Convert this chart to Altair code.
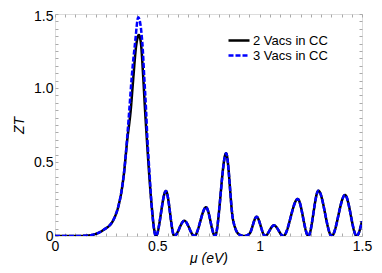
import altair as alt
import pandas as pd

series_names = ["2 Vacs in CC", "3 Vacs in CC"]

mu_black = [0.0, 0.10, 0.15, 0.179, 0.236, 0.285, 0.309, 0.326, 0.337, 0.353, 0.370, 0.383,
            0.396, 0.410, 0.420, 0.431, 0.440, 0.448, 0.460, 0.472, 0.493,
            0.542, 0.583, 0.632, 0.681, 0.738, 0.782, 0.836,
            0.870, 0.900, 0.925, 0.950, 0.985, 1.026, 1.070, 1.116, 1.186, 1.238, 1.287,
            1.352, 1.417, 1.474, 1.500]
zt_black = [0.0, 0.0, 0.002, 0.007, 0.040, 0.108, 0.198, 0.311, 0.424, 0.649, 0.851, 1.076,
            1.280, 1.358, 1.300, 1.076, 0.851, 0.671, 0.420, 0.209, 0.0,
            0.304, 0.0, 0.103, 0.0, 0.194, 0.0, 0.559,
            0.108, 0.010, 0.0, 0.015, 0.130, 0.0, 0.072, 0.0, 0.250, 0.0, 0.306,
            0.0, 0.277, 0.0, 0.100]

mu_blue = [0.0, 0.10, 0.15, 0.179, 0.236, 0.285, 0.309, 0.326, 0.337, 0.353, 0.363, 0.375,
           0.391, 0.407, 0.427, 0.436, 0.445, 0.451, 0.462, 0.472, 0.493,
           0.542, 0.583, 0.632, 0.681, 0.738, 0.782, 0.836,
           0.870, 0.900, 0.925, 0.950, 0.985, 1.026, 1.070, 1.116, 1.186, 1.238, 1.287,
           1.352, 1.417, 1.474, 1.500]
zt_blue = [0.0, 0.0, 0.002, 0.007, 0.040, 0.108, 0.198, 0.311, 0.424, 0.671, 0.851, 1.076,
           1.302, 1.478, 1.300, 1.076, 0.851, 0.671, 0.420, 0.209, 0.0,
           0.304, 0.0, 0.103, 0.0, 0.194, 0.0, 0.559,
           0.108, 0.010, 0.0, 0.015, 0.130, 0.0, 0.072, 0.0, 0.250, 0.0, 0.306,
           0.0, 0.277, 0.0, 0.100]

tick_values = [round(i * 0.05, 2) for i in range(31)]

df = pd.concat([
    pd.DataFrame({"mu": mu_black, "zt": zt_black, "series": series_names[0]}),
    pd.DataFrame({"mu": mu_blue, "zt": zt_blue, "series": series_names[1]}),
])

FONT = "Liberation Sans"
GRAY = "#aaaaaa"
major = "abs(datum.value*2 - round(datum.value*2)) < 0.001"

xscale = alt.Scale(domain=[0, 1.5], nice=False, zero=False)
yscale = alt.Scale(domain=[0, 1.5], nice=False, zero=False)

common_axis = dict(values=tick_values, domain=False, grid=False, tickColor=GRAY,
                   tickSize=3, offset=-3, tickWidth=1, labelFont=FONT,
                   labelColor="black", titleFont=FONT, titleFontSize=14,
                   titleFontStyle="italic", titleFontWeight="normal", titleColor="black")

x_axis = alt.Axis(orient="bottom", title="μ (eV)", labelFontSize=14,
                  labelExpr=f"({major}) ? format(datum.value, '') : ''",
                  labelPadding=3, titlePadding=-2, labelFlush=False, **common_axis)
y_axis = alt.Axis(orient="left", title="ZT", labelFontSize=14,
                  labelExpr=f"({major}) ? (datum.value == 0 ? '0' : format(datum.value, '.1f')) : ''",
                  labelOffset={"condition": {"test": "datum.value >= 1.49", "value": 2}, "value": 0},
                  labelPadding=2, titlePadding=7, labelFlush=False, **common_axis)
x_top = alt.Axis(orient="top", title=None, labels=False, minExtent=0, maxExtent=0, **common_axis)
y_right = alt.Axis(orient="right", title=None, labels=False, minExtent=0, maxExtent=0, **common_axis)

legend_opts = dict(title=None, orient="none", legendX=172, legendY=19, padding=0,
                   symbolType="stroke", symbolSize=441, symbolStrokeWidth=2.5,
                   labelFont=FONT, labelFontSize=13, labelColor="black",
                   clipHeight=15, rowPadding=0, labelOffset=2)

lines = alt.Chart(df).mark_line(interpolate="monotone", strokeWidth=2.5, clip=True).encode(
    x=alt.X("mu:Q", scale=xscale, axis=x_axis),
    y=alt.Y("zt:Q", scale=yscale, axis=y_axis),
    color=alt.Color("series:N", scale=alt.Scale(domain=series_names, range=["black", "#0000ff"]),
                    legend=alt.Legend(**legend_opts)),
    strokeDash=alt.StrokeDash("series:N", scale=alt.Scale(domain=series_names, range=[[1, 0], [5, 2]]),
                              legend=alt.Legend(**legend_opts)),
)

frame = alt.Chart(df).mark_point(opacity=0).encode(
    x=alt.X("mu:Q", scale=xscale, axis=x_top),
    y=alt.Y("zt:Q", scale=yscale, axis=y_right),
)

chart = alt.layer(lines, frame).resolve_axis(x="independent", y="independent").properties(
    width=307, height=222,
    padding={"left": 47, "top": 6, "right": 12, "bottom": 29},
    autosize=alt.AutoSizeParams(type="none"),
).configure_view(stroke=GRAY, strokeWidth=1).configure(background="white")

chart.save("out.html", embed_options={"renderer": "svg", "actions": False})
